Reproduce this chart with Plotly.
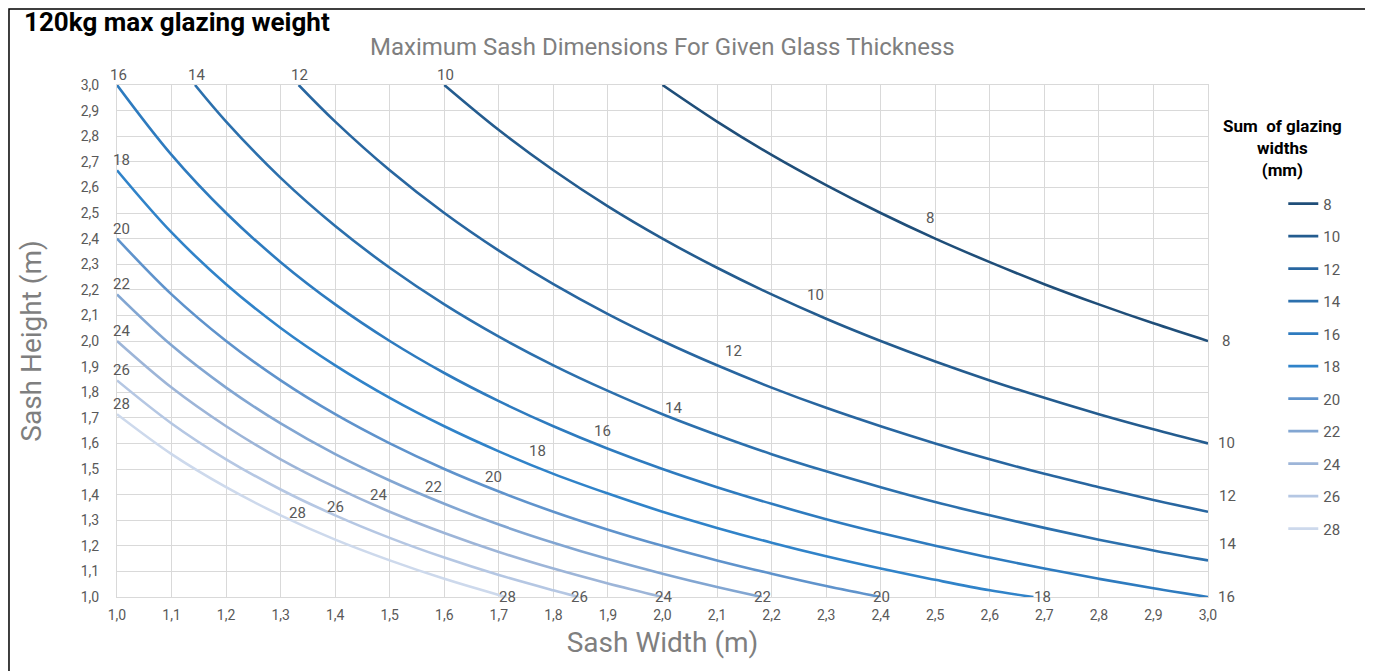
import plotly.graph_objects as go

# ---- data ----
thickness = [8, 10, 12, 14, 16, 18, 20, 22, 24, 26, 28]

w8 = [2.0, 2.1, 2.2, 2.3, 2.4, 2.5, 2.6, 2.7, 2.8, 2.9, 3.0]
h8 = [3.000, 2.857, 2.727, 2.609, 2.500, 2.400, 2.308, 2.222, 2.143, 2.069, 2.000]

w10 = [1.6, 1.7, 1.8, 1.9, 2.0, 2.1, 2.2, 2.3, 2.4, 2.5, 2.6, 2.7, 2.8, 2.9, 3.0]
h10 = [3.000, 2.824, 2.667, 2.526, 2.400, 2.286, 2.182, 2.087, 2.000, 1.920, 1.846, 1.778, 1.714, 1.655, 1.600]

w12 = [1.333, 1.4, 1.5, 1.6, 1.7, 1.8, 1.9, 2.0, 2.1, 2.2, 2.3, 2.4, 2.5, 2.6, 2.7, 2.8, 2.9, 3.0]
h12 = [3.000, 2.857, 2.667, 2.500, 2.353, 2.222, 2.105, 2.000, 1.905, 1.818, 1.739, 1.667, 1.600, 1.538, 1.481, 1.429, 1.379, 1.333]

w14 = [1.143, 1.2, 1.3, 1.4, 1.5, 1.6, 1.7, 1.8, 1.9, 2.0, 2.1, 2.2, 2.3, 2.4, 2.5, 2.6, 2.7, 2.8, 2.9, 3.0]
h14 = [3.000, 2.857, 2.637, 2.449, 2.286, 2.143, 2.017, 1.905, 1.805, 1.714, 1.633, 1.558, 1.491, 1.429, 1.371, 1.319, 1.270, 1.224, 1.182, 1.143]

w16 = [1.0, 1.1, 1.2, 1.3, 1.4, 1.5, 1.6, 1.7, 1.8, 1.9, 2.0, 2.1, 2.2, 2.3, 2.4, 2.5, 2.6, 2.7, 2.8, 2.9, 3.0]
h16 = [3.000, 2.727, 2.500, 2.308, 2.143, 2.000, 1.875, 1.765, 1.667, 1.579, 1.500, 1.429, 1.364, 1.304, 1.250, 1.200, 1.154, 1.111, 1.071, 1.034, 1.000]

w18 = [1.0, 1.1, 1.2, 1.3, 1.4, 1.5, 1.6, 1.7, 1.8, 1.9, 2.0, 2.1, 2.2, 2.3, 2.4, 2.5, 2.6, 2.68]
h18 = [2.667, 2.424, 2.222, 2.051, 1.905, 1.778, 1.667, 1.569, 1.481, 1.404, 1.333, 1.270, 1.212, 1.159, 1.111, 1.067, 1.026, 1.000]

w20 = [1.0, 1.1, 1.2, 1.3, 1.4, 1.5, 1.6, 1.7, 1.8, 1.9, 2.0, 2.1, 2.2, 2.3, 2.4]
h20 = [2.400, 2.182, 2.000, 1.846, 1.714, 1.600, 1.500, 1.412, 1.333, 1.263, 1.200, 1.143, 1.091, 1.043, 1.000]

w22 = [1.0, 1.1, 1.2, 1.3, 1.4, 1.5, 1.6, 1.7, 1.8, 1.9, 2.0, 2.1, 2.182]
h22 = [2.182, 1.983, 1.818, 1.678, 1.558, 1.455, 1.364, 1.283, 1.212, 1.148, 1.091, 1.039, 1.000]

w24 = [1.0, 1.1, 1.2, 1.3, 1.4, 1.5, 1.6, 1.7, 1.8, 1.9, 2.0]
h24 = [2.000, 1.818, 1.667, 1.538, 1.429, 1.333, 1.250, 1.176, 1.111, 1.053, 1.000]

w26 = [1.0, 1.1, 1.2, 1.3, 1.4, 1.5, 1.6, 1.7, 1.8, 1.846]
h26 = [1.846, 1.678, 1.538, 1.420, 1.319, 1.231, 1.154, 1.086, 1.026, 1.000]

w28 = [1.0, 1.1, 1.2, 1.3, 1.4, 1.5, 1.6, 1.7, 1.714]
h28 = [1.714, 1.558, 1.429, 1.319, 1.224, 1.143, 1.071, 1.008, 1.000]

widths = [w8, w10, w12, w14, w16, w18, w20, w22, w24, w26, w28]
heights = [h8, h10, h12, h14, h16, h18, h20, h22, h24, h26, h28]

# mid-curve label positions (width, height)
mid_label_w = [2.49, 2.28, 2.13, 2.02, 1.89, 1.77, 1.69, 1.58, 1.48, 1.40, 1.33]
mid_label_h = [2.48, 2.18, 1.96, 1.74, 1.65, 1.57, 1.47, 1.43, 1.40, 1.35, 1.33]

x_ticks = [1.0 + 0.1 * i for i in range(21)]
y_ticks = [1.0 + 0.1 * i for i in range(21)]

# ---- styles ----
colors = ["#1f4e79", "#245c8f", "#2866a0", "#2c70ad", "#2e7bbf", "#3083c9",
          "#5f93cc", "#82a6d2", "#9db5d8", "#b5c7e3", "#cdd9ec"]
FONT = "Roboto"
LBL = "#595959"

start_pos = {8: None, 10: "top", 12: "top", 14: "top", 16: "top",
             18: "left", 20: "left", 22: "left", 24: "left", 26: "left", 28: "left"}
end_pos = {8: "right", 10: "right", 12: "rightup", 14: "rightup", 16: "right",
           18: "bottomright", 20: "bottom", 22: "bottom", 24: "bottom", 26: "bottom", 28: "bottom"}
shifts = {"top": (1, 10), "left": (4, 10), "right": (18, 0), "rightup": (19, 16),
          "bottom": (1, 0), "bottomright": (9, 0)}

fig = go.Figure()
annotations = []
for t, w, h, c, mx, my in zip(thickness, widths, heights, colors, mid_label_w, mid_label_h):
    fig.add_trace(go.Scatter(
        x=w, y=h, mode="lines", name=str(t), legendgroup=str(t),
        line=dict(color=c, width=2.6, shape="spline", smoothing=1.0),
        cliponaxis=False,
    ))
    for pos, (px, py) in ((start_pos[t], (w[0], h[0])), (end_pos[t], (w[-1], h[-1]))):
        if pos is None:
            continue
        dx, dy = shifts[pos]
        annotations.append(dict(x=px, y=py, xref="x", yref="y", text=str(t), showarrow=False,
                                xanchor="center", yanchor="middle", xshift=dx, yshift=dy,
                                font=dict(family=FONT, size=15, color=LBL)))
    annotations.append(dict(x=mx, y=my, xref="x", yref="y", text=str(t), showarrow=False,
                            xanchor="center", yanchor="middle",
                            font=dict(family=FONT, size=15, color=LBL)))

# titles
annotations.append(dict(x=-0.0871, y=1.123, xref="paper", yref="paper", xanchor="left", yanchor="middle",
                        text="<b>120kg max glazing weight</b>", showarrow=False,
                        font=dict(family=FONT, size=26, color="#000000")))
annotations.append(dict(x=0.5, y=1.074, xref="paper", yref="paper", xanchor="center", yanchor="middle",
                        text="Maximum Sash Dimensions For Given Glass Thickness", showarrow=False,
                        font=dict(family=FONT, size=24, color="#7f7f7f")))
annotations.append(dict(x=1.068, y=0.877, xref="paper", yref="paper", xanchor="center", yanchor="middle",
                        text="<b>Sum  of glazing<br>widths<br>(mm)</b>", showarrow=False, align="center",
                        font=dict(family=FONT, size=17, color="#000000")))

fig.update_layout(
    width=1365, height=663,
    margin=dict(l=109, r=165, t=77, b=74),
    paper_bgcolor="white", plot_bgcolor="white",
    separators=",.",
    font=dict(family=FONT, color=LBL),
    showlegend=True,
    legend=dict(x=1.069, y=0.80, xanchor="left", yanchor="top",
                font=dict(family=FONT, size=15, color=LBL),
                tracegroupgap=10, bgcolor="rgba(0,0,0,0)"),
    annotations=annotations,
    shapes=[dict(type="rect", xref="paper", yref="paper", x0=-0.0990, x1=1.1448, y0=-0.2, y1=1.1484,
                 line=dict(color="#000000", width=1.5), layer="below")],
)
fig.update_xaxes(range=[1.0, 3.0], tickvals=x_ticks, tickformat=".1f",
                 showgrid=True, gridcolor="#d9d9d9", gridwidth=1,
                 showline=True, linecolor="#d9d9d9", mirror=True, zeroline=False,
                 ticks="", ticklabelstandoff=5,
                 tickfont=dict(family=FONT, size=14, color=LBL),
                 title=dict(text="Sash Width (m)", standoff=10,
                            font=dict(family=FONT, size=28, color="#7f7f7f")))
fig.update_yaxes(range=[1.0, 3.0], tickvals=y_ticks, tickformat=".1f",
                 showgrid=True, gridcolor="#d9d9d9", gridwidth=1,
                 showline=True, linecolor="#d9d9d9", mirror=True, zeroline=False,
                 ticks="", ticklabelstandoff=14,
                 tickfont=dict(family=FONT, size=14, color=LBL),
                 title=dict(text="Sash Height (m)", standoff=30,
                            font=dict(family=FONT, size=28, color="#7f7f7f")))

fig.write_html("out.html")
